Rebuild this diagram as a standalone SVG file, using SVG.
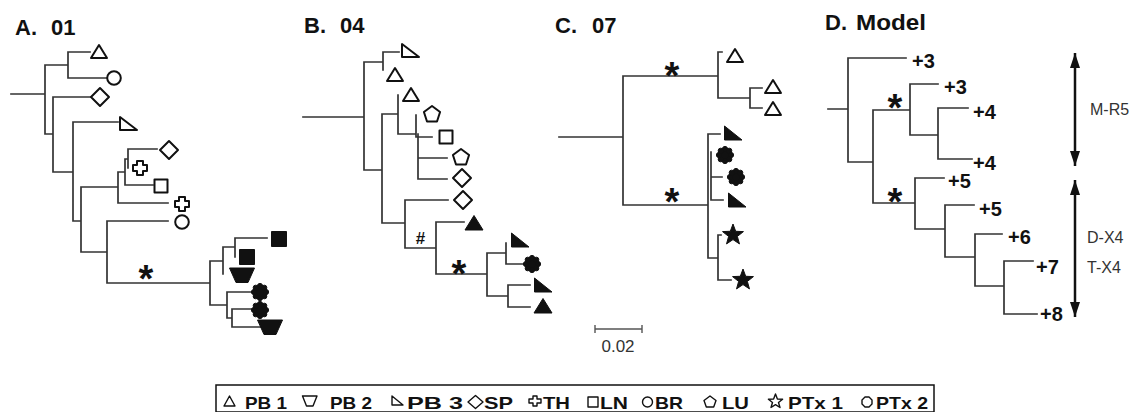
<svg xmlns="http://www.w3.org/2000/svg" width="1131" height="412" viewBox="0 0 1131 412">
<style>
.br{fill:none;stroke:#333;stroke-width:1.7;stroke-linecap:square}
.title{font-family:"Liberation Sans",Arial,sans-serif;font-weight:bold;font-size:22px;fill:#111}
.ast{font-family:"Liberation Sans",Arial,sans-serif;font-weight:bold;font-size:38px;fill:#111;text-anchor:middle}
.lab{font-family:"Liberation Sans",Arial,sans-serif;font-weight:bold;font-size:20px;fill:#111}
.reg{font-family:"Liberation Sans",Arial,sans-serif;font-size:16px;fill:#333}
.leg{font-family:"Liberation Sans",Arial,sans-serif;font-weight:bold;font-size:17px;fill:#111}
.o{fill:#fff;stroke:#111;stroke-width:2;stroke-linejoin:round}
.k{fill:#111;stroke:#111;stroke-width:1;stroke-linejoin:round}
.ls{fill:none;stroke:#111;stroke-width:1.4;stroke-linejoin:round}
</style>
<defs>
<polygon id="tri" class="o" points="0,-7 8,6 -8,6"/>
<polygon id="pb3" class="o" points="-8,-7 -8,6 9,6"/>
<polygon id="dia" class="o" points="0,-9 9,0 0,9 -9,0"/>
<circle id="cir" class="o" r="6.8"/>
<rect id="sq" class="o" x="-6.5" y="-6.5" width="13" height="13"/>
<polygon id="th" class="o" points="-3,-7 3,-7 3,-3 7,-3 7,3 3,3 3,7 -3,7 -3,3 -7,3 -7,-3 -3,-3"/>
<polygon id="pent" class="o" points="0,-8 8.08,-2 5,7.5 -5,7.5 -8.08,-2"/>
<rect id="bsq" class="k" x="-7.5" y="-7.5" width="15" height="15"/>
<polygon id="btrap" class="k" points="-12.5,-7 12.5,-7 6,7.5 -6,7.5"/>
<g id="cog" class="k"><circle r="6.5"/><circle cx="0" cy="-6" r="2.6"/><circle cx="4.24" cy="-4.24" r="2.6"/><circle cx="6" cy="0" r="2.6"/><circle cx="4.24" cy="4.24" r="2.6"/><circle cx="0" cy="6" r="2.6"/><circle cx="-4.24" cy="4.24" r="2.6"/><circle cx="-6" cy="0" r="2.6"/><circle cx="-4.24" cy="-4.24" r="2.6"/></g>
<polygon id="btri" class="k" points="0,-7.5 9,7 -9,7"/>
<polygon id="bpb3" class="k" points="-8.5,-7 -8.5,7 9,7"/>
<polygon id="bstar" class="k" points="0,-11 2.7,-3.72 10.46,-3.4 4.37,1.42 6.47,8.9 0,4.6 -6.47,8.9 -4.37,1.42 -10.46,-3.4 -2.7,-3.72"/>
<marker id="ah" markerWidth="15" markerHeight="10" refX="15" refY="5" orient="auto-start-reverse" markerUnits="userSpaceOnUse" viewBox="0 0 15 10">
<path d="M0,0 L15,5 L0,10 z" fill="#111"/>
</marker>
</defs>

<g id="connectors">
<path class="br" d="M11,94 H45 M45,65 V134 M45,65 H68 M68,52 V78 M68,52 H90 M68,78 H107 M45,134 H53 M53,97 V172 M53,97 H91 M53,172 H73 M73,122 V221 M73,122 H118 M73,221 H81 M81,187 V252 M81,187 H118 M118,172 V203 M118,203 H168 M118,172 H125 M125,159 V185 M125,185 H153 M125,159 H128 M128,149 V168 M128,149 H157 M81,252 H107 M107,221 V283 M107,221 H168 M107,283 H210 M210,261 V305 M210,261 H223 M223,247 V274 M223,247 H235 M235,238 V257 M235,238 H267 M210,305 H227 M227,292 V318 M227,292 H252 M227,318 H232 M232,309 V327 M232,309 H252 M232,327 H262"/>
<path class="br" d="M303,117 H364 M364,62 V170 M364,62 H383 M383,52 V70 M383,52 H399 M364,170 H382 M382,114 V223 M382,114 H398 M398,95 V134 M398,134 H416 M416,115 V137 M416,137 H432 M418,134 V179 M418,158 H447 M418,179 H447 M382,223 H405 M405,200 V248 M405,200 H448 M405,248 H436 M436,222 V274 M436,222 H464 M436,274 H487 M487,253 V296 M487,253 H506 M506,243 V264 M506,264 H525 M487,296 H508 M508,285 V307 M508,285 H530 M508,307 H530"/>
<path class="br" d="M559,137 H623 M623,76 V205 M623,76 H718 M718,52 V98 M718,52 H722 M718,98 H750 M750,88 V108 M750,88 H762 M750,108 H762 M623,205 H708 M708,134 V258 M708,134 H720 M711,152 V200 M711,177 H722 M711,200 H723 M708,258 H718 M718,235 V280 M718,235 H721 M718,280 H731"/>
<path class="br" d="M828,109 H848 M848,58 V162 M848,58 H906 M848,162 H873 M873,110 V203 M873,110 H910 M910,84 V135 M910,84 H938 M910,135 H938 M938,108 V159 M938,108 H968 M938,159 H972 M873,203 H915 M915,178 V229 M915,178 H944 M915,229 H945 M945,205 V257 M945,205 H974 M945,257 H975 M975,234 V286 M975,234 H1002 M975,286 H1004 M1004,261 V314 M1004,261 H1033 M1004,314 H1037"/>
<path d="M595,329 H642 M595,325 V333 M642,325 V333" fill="none" stroke="#555" stroke-width="1.4"/>
<line x1="1075" y1="53" x2="1075" y2="166" stroke="#111" stroke-width="2.5" marker-start="url(#ah)" marker-end="url(#ah)"/>
<line x1="1075" y1="180" x2="1075" y2="317" stroke="#111" stroke-width="2.5" marker-start="url(#ah)" marker-end="url(#ah)"/>
</g>

<g id="panelA">
<text class="title" x="15" y="35">A.<tspan x="51">01</tspan></text>
<use href="#tri" x="99" y="52"/>
<use href="#cir" x="114" y="78"/>
<use href="#dia" x="100" y="97"/>
<use href="#pb3" x="128" y="124"/>
<use href="#dia" x="169" y="150"/>
<use href="#th" x="140" y="168"/>
<use href="#sq" x="161" y="186"/>
<use href="#th" x="182" y="204"/>
<use href="#cir" x="182" y="222"/>
<use href="#bsq" x="279" y="239"/>
<use href="#bsq" x="247" y="257"/>
<use href="#btrap" x="242" y="275"/>
<use href="#cog" x="260" y="292"/>
<use href="#cog" x="260" y="310"/>
<use href="#btrap" x="270" y="327"/>
<text class="ast" x="146" y="292">*</text>
</g>

<g id="panelB">
<text class="title" x="304" y="33">B.<tspan x="340">04</tspan></text>
<use href="#pb3" x="410" y="51"/>
<use href="#tri" x="395" y="75"/>
<use href="#tri" x="411" y="95"/>
<use href="#pent" x="432" y="114"/>
<use href="#sq" x="446" y="137"/>
<use href="#pent" x="461" y="157"/>
<use href="#dia" x="462" y="178"/>
<use href="#dia" x="463" y="200"/>
<use href="#btri" x="474" y="223"/>
<use href="#bpb3" x="520" y="240"/>
<use href="#cog" x="532" y="264"/>
<use href="#bpb3" x="543" y="285"/>
<use href="#btri" x="543" y="306"/>
<text x="420.5" y="244" font-family="Liberation Sans, Arial, sans-serif" font-weight="bold" font-size="17" text-anchor="middle" fill="#111">#</text>
<text class="ast" x="459" y="287">*</text>
</g>

<g id="panelC">
<text class="title" x="555" y="33">C.<tspan x="592">07</tspan></text>
<use href="#tri" x="735" y="56"/>
<use href="#tri" x="773" y="87"/>
<use href="#tri" x="773" y="109"/>
<use href="#bpb3" x="733" y="133"/>
<use href="#cog" x="725" y="155"/>
<use href="#cog" x="736" y="177"/>
<use href="#bpb3" x="737" y="200"/>
<use href="#bstar" x="733" y="235"/>
<use href="#bstar" x="743" y="280"/>
<text class="ast" x="672" y="89">*</text>
<text class="ast" x="672" y="215">*</text>
<text x="618" y="352" font-family="Liberation Sans, Arial, sans-serif" font-size="17" text-anchor="middle" fill="#333">0.02</text>
</g>

<g id="panelD">
<text class="title" x="825" y="30">D.<tspan x="856" textLength="70" lengthAdjust="spacingAndGlyphs">Model</tspan></text>
<text class="lab" x="912" y="67.5">+3</text>
<text class="lab" x="944" y="94">+3</text>
<text class="lab" x="973" y="119">+4</text>
<text class="lab" x="973" y="170">+4</text>
<text class="lab" x="948" y="188">+5</text>
<text class="lab" x="979" y="216">+5</text>
<text class="lab" x="1008" y="244">+6</text>
<text class="lab" x="1036" y="274">+7</text>
<text class="lab" x="1040" y="320.5">+8</text>
<text class="ast" x="895" y="121">*</text>
<text class="ast" x="895" y="215">*</text>
<text class="reg" x="1090" y="115">M-R5</text>
<text class="reg" x="1087" y="243">D-X4</text>
<text class="reg" x="1087" y="273">T-X4</text>
</g>

<g id="legend">
<rect x="216" y="385" width="718" height="27" fill="none" stroke="#111" stroke-width="1.5"/>
<polygon class="ls" points="229.5,396 235,406 224,406"/>
<text class="leg" x="245" y="408.5" textLength="42" lengthAdjust="spacingAndGlyphs">PB 1</text>
<polygon class="ls" points="302.5,396 317,396 313,406 306.5,406"/>
<text class="leg" x="330" y="408.5" textLength="42" lengthAdjust="spacingAndGlyphs">PB 2</text>
<polygon class="ls" points="392,396 392,405 403,405"/>
<text class="leg" x="407" y="408.5" textLength="56" lengthAdjust="spacingAndGlyphs">PB 3</text>
<polygon class="ls" points="475.5,395.5 483,402 475.5,408.5 468,402"/>
<text class="leg" x="484" y="408.5" textLength="29" lengthAdjust="spacingAndGlyphs">SP</text>
<polygon class="ls" points="533,396 537,396 537,399 541,399 541,403 537,403 537,406 533,406 533,403 529,403 529,399 533,399"/>
<text class="leg" x="543" y="408.5" textLength="27" lengthAdjust="spacingAndGlyphs">TH</text>
<rect class="ls" x="588" y="397" width="10" height="10"/>
<text class="leg" x="600" y="408.5" textLength="28" lengthAdjust="spacingAndGlyphs">LN</text>
<circle class="ls" cx="647.5" cy="402" r="5"/>
<text class="leg" x="655" y="408.5" textLength="28" lengthAdjust="spacingAndGlyphs">BR</text>
<polygon class="ls" points="710,396 716,400.5 713.7,407 706.3,407 704,400.5"/>
<text class="leg" x="722" y="408.5" textLength="27" lengthAdjust="spacingAndGlyphs">LU</text>
<polygon class="ls" points="775.5,394 777.4,399 782.6,399.2 778.5,402.5 780,407.5 775.5,404.7 771,407.5 772.5,402.5 768.4,399.2 773.6,399"/>
<text class="leg" x="788" y="408.5" textLength="55" lengthAdjust="spacingAndGlyphs">PTx 1</text>
<polygon class="ls" points="865,397 869,397 872,400 872,404 869,407 865,407 862,404 862,400"/>
<text class="leg" x="876" y="408.5" textLength="52" lengthAdjust="spacingAndGlyphs">PTx 2</text>
</g>
</svg>
